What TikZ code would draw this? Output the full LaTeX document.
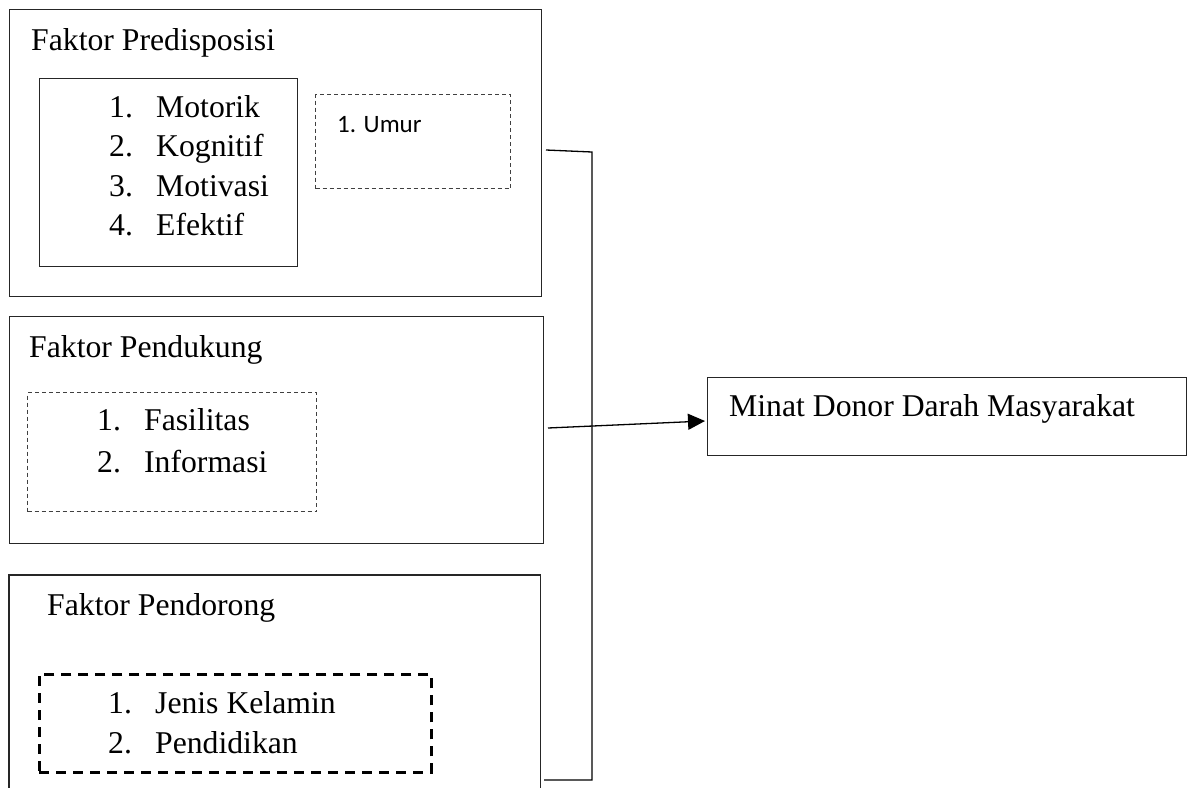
\documentclass[tikz,border=0pt]{standalone}
\usepackage{fontspec}
\setmainfont{Liberation Serif}
\newfontfamily\calfont{Carlito}
\usetikzlibrary{arrows.meta}
\newcommand{\itm}[2]{\makebox[47pt][l]{#1}#2}
\begin{document}
\begin{tikzpicture}[x=1pt,y=-1pt,
  frame/.style={draw=black!85,line width=1.3pt,anchor=north west,inner sep=0pt},
  thindash/.style={draw=black!75,line width=1pt,dash pattern=on 4pt off 3pt,anchor=north west,inner sep=0pt},
  thickdash/.style={draw=black,line width=2.6pt,dash pattern=on 10pt off 7pt,anchor=north west,inner sep=0pt},
  txt/.style={anchor=base west,inner sep=0pt,font=\fontsize{31.7}{38}\selectfont},
  caltxt/.style={anchor=base west,inner sep=0pt,font=\calfont\fontsize{25}{30}\selectfont},
  conn/.style={draw=black,line width=1.3pt}]
\useasboundingbox (0,0) rectangle (1193,787);
\fill[white] (0,0) rectangle (1193,787);
% Faktor Predisposisi
\node[frame,minimum width=532pt,minimum height=287pt] (pre) at (9,9) {};
\node[txt] (preT) at (31,50) {Faktor Predisposisi};
\node[frame,minimum width=258pt,minimum height=188pt] (preA) at (39,78) {};
\node[txt] (m1) at (109,117) {\itm{1.}{Motorik}};
\node[txt] (m2) at (109,156.5) {\itm{2.}{Kognitif}};
\node[txt] (m3) at (109,196) {\itm{3.}{Motivasi}};
\node[txt] (m4) at (109,235) {\itm{4.}{Efektif}};
\node[thindash,minimum width=195pt,minimum height=94pt] (preB) at (315,94) {};
\node[caltxt] (u1) at (337,132) {1. Umur};
% Faktor Pendukung
\node[frame,minimum width=534pt,minimum height=227pt] (pen) at (9,316) {};
\node[txt] (penT) at (29,357) {Faktor Pendukung};
\node[thindash,minimum width=289pt,minimum height=119pt] (penA) at (27,392) {};
\node[txt] (f1) at (97,430) {\itm{1.}{Fasilitas}};
\node[txt] (f2) at (97,472) {\itm{2.}{Informasi}};
% Faktor Pendorong (open at bottom)
\node[anchor=north west,inner sep=0pt,minimum width=531pt,minimum height=214pt] (pdr) at (9,575) {};
\draw[line width=1.3pt,draw=black!85] (pdr.south west) |- (pdr.north east) -- (pdr.south east);
\node[txt] (pdrT) at (47,615) {Faktor Pendorong};
\node[thickdash,minimum width=392pt,minimum height=98pt] (pdrA) at (38,673) {};
\node[txt] (j1) at (108,713) {\itm{1.}{Jenis Kelamin}};
\node[txt] (j2) at (108,753) {\itm{2.}{Pendidikan}};
% Minat
\node[frame,minimum width=479pt,minimum height=78pt] (mdd) at (707,377) {};
\node[txt] (mddT) at (729,416) {Minat Donor Darah Masyarakat};
% connectors
\coordinate (topS) at (546,150);
\coordinate (topJ) at (592,152);
\coordinate (botJ) at (592,780);
\coordinate (botS) at (544,780);
\coordinate (arS) at (548,428);
\coordinate (arE) at (705,421);
\draw[conn] (topS) -- (topJ) -- (botJ) -- (botS);
\draw[conn,-{Triangle[length=17pt,width=16pt]}] (arS) -- (arE);
\end{tikzpicture}
\end{document}
